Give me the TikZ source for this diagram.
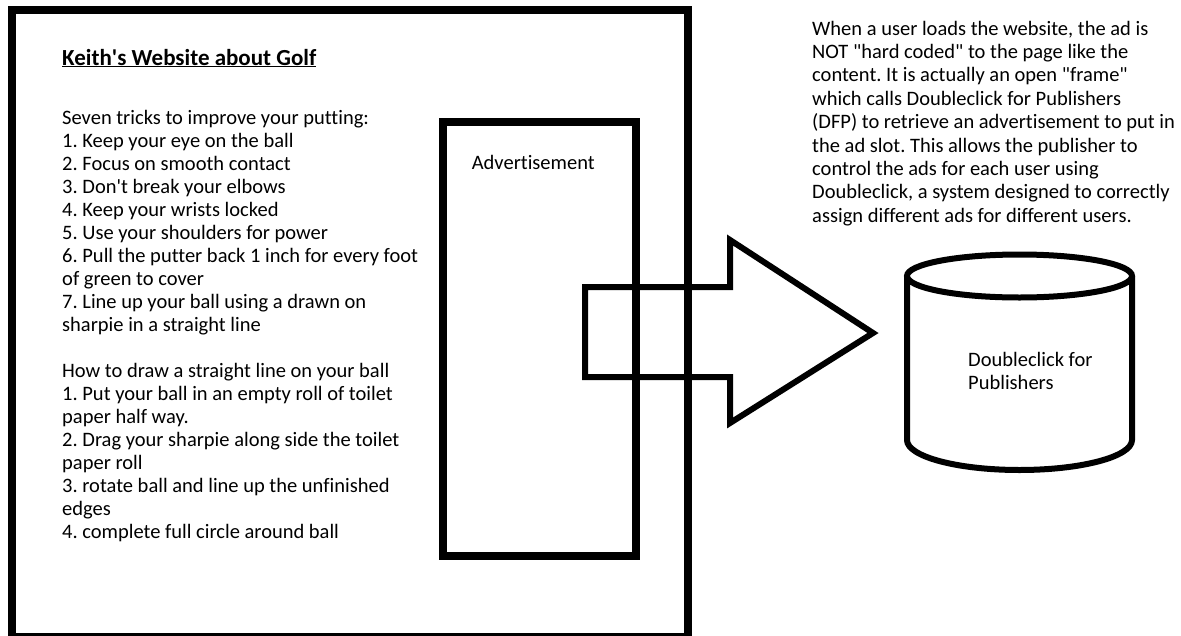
\documentclass[tikz,border=0pt]{standalone}
\usepackage{fontspec}
\setmainfont{Carlito}[Ligatures=NoCommon]
\usetikzlibrary{positioning}
\frenchspacing

\begin{document}
\begin{tikzpicture}[x=1pt,y=1pt,
  body/.style={font=\fontsize{20.5}{23}\selectfont,align=left,inner sep=0pt},
  frame/.style={draw,line width=8pt},
  slot/.style={draw,line width=7.5pt,inner sep=0pt,minimum width=193pt,minimum height=434pt},
  outline/.style={draw,line width=6pt,line join=miter}]
\useasboundingbox (0,0) rectangle (1181,-635);
% the publisher's page
\draw[frame] (12,-10) rectangle (688,-637);
\node[body,anchor=base west,font=\fontsize{23}{27}\selectfont] (title) at (62,-65) {\textbf{\underline{Keith\textquotesingle s Website about Golf}}};
\node[body,anchor=north west] (tips) at (62,-109.7) {Seven tricks to improve your putting:\\
1. Keep your eye on the ball\\
2. Focus on smooth contact\\
3. Don\textquotesingle t break your elbows\\
4. Keep your wrists locked\\
5. Use your shoulders for power\\
6. Pull the putter back 1 inch for every foot\\
of green to cover\\
7. Line up your ball using a drawn on\\
sharpie in a straight line\\[23pt]
How to draw a straight line on your ball\\
1. Put your ball in an empty roll of toilet\\
paper half way.\\
2. Drag your sharpie along side the toilet\\
paper roll\\
3. rotate ball and line up the unfinished\\
edges\\
4. complete full circle around ball};
% ad slot
\node[slot,anchor=north west] (adslot) at (439,-118) {};
\node[body,below=37pt of adslot.north,xshift=-6pt] (adlabel) {Advertisement};
% call out to the ad server
\draw[outline] (585,-287) -- (730,-287) -- (730,-240) -- (873,-333)
  -- (730,-423) -- (730,-377) -- (585,-377) -- cycle;
% ad server
\draw[outline] (1019.5,-276) ellipse [x radius=112.5,y radius=21.5];
\draw[outline] (907,-276) -- (907,-440) arc[start angle=180,end angle=360,x radius=112.5,y radius=30] -- (1132,-276);
\node[body,anchor=north west] (dfp) at (968,-351.7) {Doubleclick for\\Publishers};
\node[body,anchor=north west,font=\fontsize{20.5}{23.4}\selectfont] (note) at (812,-20.7) {When a user loads the website, the ad is\\
NOT \textquotedbl hard coded\textquotedbl{} to the page like the\\
content. It is actually an open \textquotedbl frame\textquotedbl\\
which calls Doubleclick for Publishers\\
(DFP) to retrieve an advertisement to put in\\
the ad slot. This allows the publisher to\\
control the ads for each user using\\
Doubleclick, a system designed to correctly\\
assign different ads for different users.};
\end{tikzpicture}
\end{document}
